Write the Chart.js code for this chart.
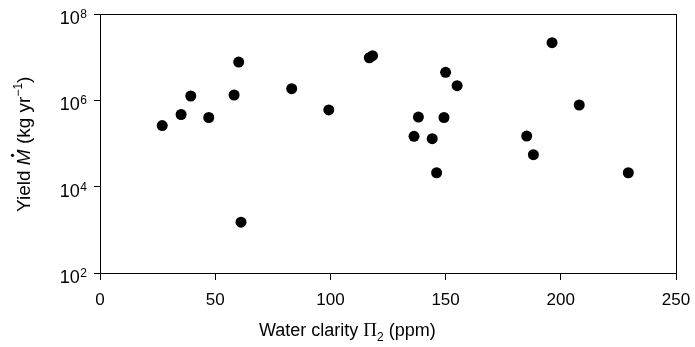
<!DOCTYPE html>
<html>
<head>
<meta charset="utf-8">
<script src="https://cdn.jsdelivr.net/npm/chart.js@4"></script>
<style>
  body{margin:0;background:#fff;}
  #wrap{width:695px;height:347px;}
</style>
</head>
<body>
<div id="wrap"><canvas id="main-chart" width="695" height="347"></canvas></div>
<script>
// water clarity (ppm) and yield (kg/yr)
const waterClarity=[27.0,35.2,39.4,47.2,58.2,60.2,61.2,83.2,99.3,116.9,118.3,150.0,155.0,138.2,149.3,136.3,144.2,146.1,196.2,208.0,185.2,188.1,229.3];
const yieldValues=[2.6e5,4.7e5,1.26e6,4.0e5,1.33e6,7.7e6,1.5e3,1.86e6,6.0e5,9.7e6,1.08e7,4.46e6,2.18e6,4.1e5,4.0e5,1.47e5,1.29e5,2.1e4,2.17e7,7.8e5,1.49e5,5.5e4,2.1e4];
const xTicks=[0,50,100,150,200,250];
const yExponents=[2,4,6,8];
const xTitle=["Water clarity ","\u03A0","2"," (ppm)"];
const yTitle=["Yield ","M"," (kg yr","\u22121",")"];

const SANS='"Liberation Sans", Arial, sans-serif';
const SERIF='"Liberation Serif", "Times New Roman", serif';

const points=waterClarity.map((x,i)=>({x:x,y:yieldValues[i]}));

const framePlugin={
    id:'frame',
    afterDraw(chart){
        const ctx=chart.ctx;
        const a=chart.chartArea;
        ctx.save();
        ctx.strokeStyle='#000';
        ctx.lineWidth=1;
        ctx.strokeRect(Math.round(a.left)+0.5,Math.round(a.top)+0.5,Math.round(a.right-a.left),Math.round(a.bottom-a.top));

        // y tick labels 10^n
        const ys=chart.scales.y;
        ctx.fillStyle='#000';
        ctx.textBaseline='alphabetic';
        yExponents.forEach(e=>{
            const py=ys.getPixelForValue(Math.pow(10,e));
            ctx.font='12px '+SANS;
            const ew=ctx.measureText(String(e)).width;
            const right=87;
            ctx.textAlign='left';
            ctx.fillText(String(e),right-ew,py+4);
            ctx.font='18px '+SANS;
            ctx.textAlign='right';
            ctx.fillText('10',right-ew-0.5,py+10);
        });

        // x title
        let x=259, base=336;
        ctx.textAlign='left';
        ctx.font='18px '+SANS;
        ctx.fillText(xTitle[0],x,base); x+=ctx.measureText(xTitle[0]).width;
        ctx.font='19px '+SERIF;
        ctx.fillText(xTitle[1],x,base); x+=ctx.measureText(xTitle[1]).width;
        ctx.font='12px '+SANS;
        ctx.fillText(xTitle[2],x,base+5); x+=ctx.measureText(xTitle[2]).width;
        ctx.font='18px '+SANS;
        ctx.fillText(xTitle[3],x,base);

        // y title, rotated
        ctx.translate(30,212);
        ctx.rotate(-Math.PI/2);
        let t=0;
        ctx.font='19px '+SANS;
        ctx.fillText(yTitle[0],t,0); t+=ctx.measureText(yTitle[0]).width;
        ctx.font='italic 19px '+SANS;
        const mw=ctx.measureText(yTitle[1]).width;
        ctx.fillText(yTitle[1],t,0);
        ctx.beginPath();
        ctx.arc(t+mw*0.62,-17.5,1.6,0,Math.PI*2);
        ctx.fill();
        t+=mw;
        ctx.font='19px '+SANS;
        ctx.fillText(yTitle[2],t,0); t+=ctx.measureText(yTitle[2]).width;
        ctx.font='12px '+SANS;
        ctx.fillText(yTitle[3],t,-8); t+=ctx.measureText(yTitle[3]).width;
        ctx.font='19px '+SANS;
        ctx.fillText(yTitle[4],t,0);
        ctx.restore();
    }
};

function createChart(){
    const ctx=document.getElementById("main-chart").getContext("2d");
    new Chart(ctx,{
        type:"scatter",
        data:{
            datasets:[{
                data:points,
                backgroundColor:"#000",
                borderWidth:0,
                pointRadius:5.5,
                pointHoverRadius:5.5
            }]
        },
        options:{
            responsive:false,
            animation:false,
            events:[],
            layout:{padding:{left:0,top:14,right:19,bottom:0}},
            plugins:{legend:{display:false},tooltip:{enabled:false}},
            scales:{
                x:{
                    type:'linear',
                    min:0,max:250,
                    afterBuildTicks:(s)=>{s.ticks=xTicks.map(v=>({value:v}));},
                    afterFit:(s)=>{s.height=74;s.paddingLeft=0;s.paddingRight=0;},
                    grid:{drawOnChartArea:false,drawTicks:true,tickLength:7,color:'#000',lineWidth:1},
                    border:{display:true,color:'#000',width:1},
                    ticks:{color:'#000',font:{family:SANS,size:17},padding:10,maxRotation:0}
                },
                y:{
                    type:'logarithmic',
                    min:1e2,max:1e8,
                    afterBuildTicks:(s)=>{s.ticks=yExponents.map(e=>({value:Math.pow(10,e)}));},
                    afterFit:(s)=>{s.width=100;s.paddingTop=0;s.paddingBottom=0;},
                    grid:{drawOnChartArea:false,drawTicks:true,tickLength:6,color:'#000',lineWidth:1},
                    border:{display:true,color:'#000',width:1},
                    ticks:{callback:()=>'',padding:0}
                }
            }
        },
        plugins:[framePlugin]
    });
}

createChart();
</script>
</body>
</html>
